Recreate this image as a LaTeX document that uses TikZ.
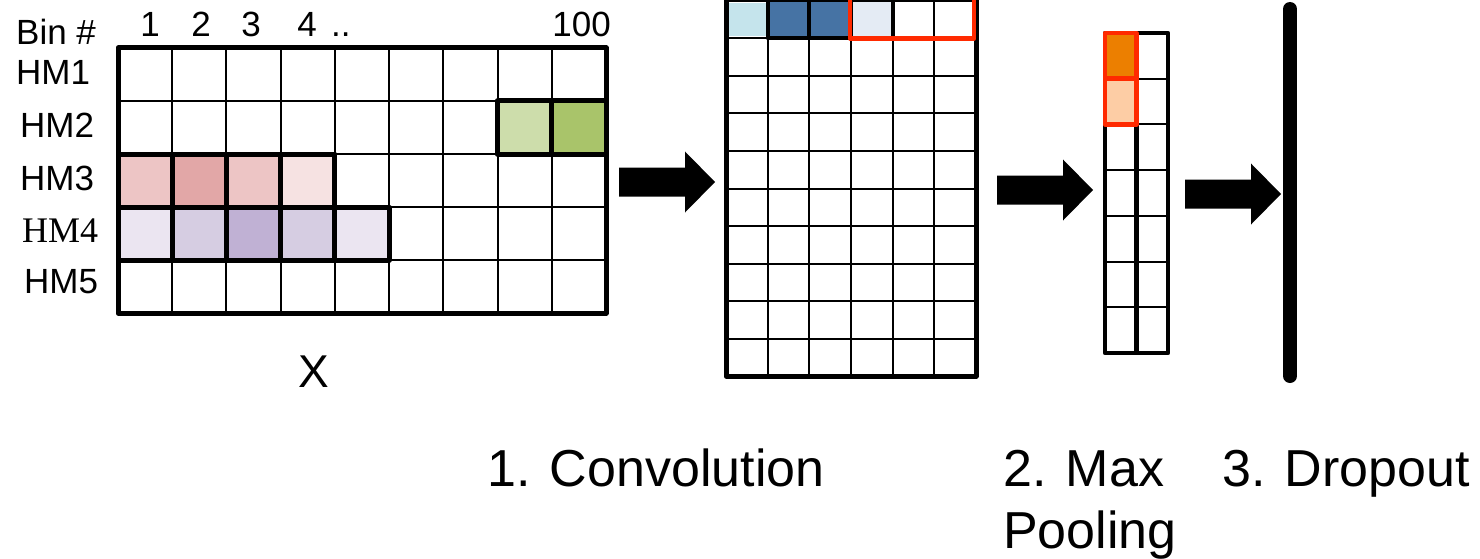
\documentclass[tikz,border=0pt]{standalone}
\usepackage{fontspec}
\setmainfont{Liberation Sans}
\newfontfamily\hmserif{Liberation Serif}
\definecolor{hmA}{HTML}{EDC5C5}
\definecolor{hmB}{HTML}{E2A7A7}
\definecolor{hmC}{HTML}{F6E2E2}
\definecolor{hpA}{HTML}{EBE5F1}
\definecolor{hpB}{HTML}{D6CDE2}
\definecolor{hpC}{HTML}{C0B1D4}
\definecolor{hgA}{HTML}{CDDDAB}
\definecolor{hgB}{HTML}{A9C46A}
\definecolor{cvA}{HTML}{C5E4EC}
\definecolor{cvB}{HTML}{4673A4}
\definecolor{cvC}{HTML}{E4EBF4}
\definecolor{redbox}{HTML}{FF2A00}
\definecolor{orA}{HTML}{EC7F00}
\definecolor{orB}{HTML}{FDCDA5}
\begin{document}
\begin{tikzpicture}[x=1pt,y=-1pt,
  gridline/.style={line width=2pt},
  outerline/.style={line width=5pt,line join=round},
  cellbox/.style={line width=5pt,line join=round},
  redcell/.style={draw=redbox,line width=4.5pt,line join=round},
  smalllbl/.style={font=\fontsize{35}{40}\selectfont,inner sep=0pt,anchor=base west},
  biglbl/.style={font=\fontsize{52}{62}\selectfont,inner sep=0pt,anchor=base west},
  blockarrow/.pic={\fill (0,-14.5) -- (66,-14.5) -- (66,-30.5) -- (96,0) -- (66,30.5) -- (66,14.5) -- (0,14.5) -- cycle;}]
\useasboundingbox (0,0) rectangle (1480,559);

% ---------- input matrix X ----------
\foreach \i in {1,...,8} \draw[gridline] ({118+\i*54.22},48) -- ({118+\i*54.22},313);
\foreach \j in {1,...,4} \draw[gridline] (118,{48+\j*53}) -- (606,{48+\j*53});
% HM2 (green)
\draw[cellbox,fill=hgA] ({118+7*54.22},101) rectangle ({118+8*54.22},154);
\draw[cellbox,fill=hgB] ({118+8*54.22},101) rectangle (606,154);
% HM3 (red)
\foreach \c [count=\i from 0] in {hmA,hmB,hmA,hmC}
  \draw[cellbox,fill=\c] ({118+\i*54.22},154) rectangle ({118+(\i+1)*54.22},207);
% HM4 (purple)
\foreach \c [count=\i from 0] in {hpA,hpB,hpC,hpB,hpA}
  \draw[cellbox,fill=\c] ({118+\i*54.22},207) rectangle ({118+(\i+1)*54.22},260);
\draw[outerline] (118,48) rectangle (606,313);

\node[smalllbl] (bin) at (16,45) {Bin \#};
\node[smalllbl,anchor=base] (n1) at (150,37) {1};
\node[smalllbl,anchor=base] (n2) at (201,37) {2};
\node[smalllbl,anchor=base] (n3) at (251,37) {3};
\node[smalllbl,anchor=base] (n4) at (307,37) {4};
\node[smalllbl] (ndots) at (331,37) {..};
\node[smalllbl,anchor=base east] (n100) at (611,37) {100};
\node[smalllbl] (hm1) at (16,85) {HM1};
\node[smalllbl] (hm2) at (20,138) {HM2};
\node[smalllbl] (hm3) at (20,190) {HM3};
\node[smalllbl,font=\hmserif\fontsize{36}{40}\selectfont] (hm4) at (22,242) {HM4};
\node[smalllbl] (hm5) at (24,293) {HM5};
\node[font=\fontsize{46}{50}\selectfont,inner sep=0pt,anchor=base] (xlbl) at (314,387) {X};

% ---------- arrow 1 ----------
\pic at (619,182) {blockarrow};

% ---------- convolution map ----------
\foreach \i in {1,...,5} \draw[gridline] ({726+\i*41.67},1) -- ({726+\i*41.67},376);
\foreach \j in {1,...,9} \draw[gridline] (726,{1+\j*37.5}) -- (976,{1+\j*37.5});
\fill[cvA] (729,3) rectangle (765.5,36);
\draw[cellbox,line width=4pt,fill=cvB] ({726+1*41.67},0) rectangle ({726+2*41.67},38.5);
\draw[cellbox,line width=4pt,fill=cvB] ({726+2*41.67},0) rectangle ({726+3*41.67},38.5);
\draw[cellbox,line width=4pt,fill=cvC] ({726+3*41.67},0) rectangle ({726+4*41.67},38.5);
\draw[outerline] (726,0) rectangle (976,376);
\draw[redcell] (850,-3) rectangle (974,38.5);

% ---------- arrow 2 ----------
\pic at (997,190) {blockarrow};

% ---------- max pooling ----------
\foreach \j in {1,...,6} \draw[gridline] (1105,{33+\j*45.71}) -- (1168,{33+\j*45.71});
\draw[outerline,line width=4.5pt] (1136.5,33) -- (1136.5,353);
\draw[outerline,line width=4.5pt] (1105,33) rectangle (1168,353);
\draw[redcell,fill=orA] (1105,33) rectangle (1136.5,78.7);
\draw[redcell,fill=orB] (1105,78.7) rectangle (1136.5,124.4);

% ---------- arrow 3 ----------
\pic at (1185,194) {blockarrow};

% ---------- dropout ----------
\coordinate (dtop) at (1290,9);
\coordinate (dbot) at (1290,376);
\draw[line width=14pt,line cap=round] (dtop) -- (dbot);

% ---------- step labels ----------
\node[biglbl] (conv) at (487,486) {1. Convolution};
\node[biglbl] (maxp) at (1003,486) {2. Max};
\node[biglbl] (pool) at (1003,548) {Pooling};
\node[biglbl] (drop) at (1222,486) {3. Dropout};
\end{tikzpicture}
\end{document}
